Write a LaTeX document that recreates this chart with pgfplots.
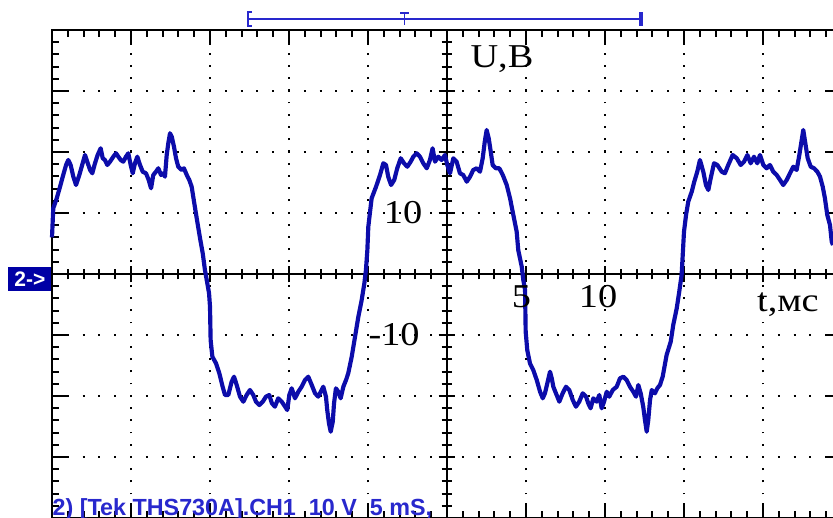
\documentclass[border=0pt]{standalone}
\usepackage{pgfplots}
\pgfplotsset{compat=1.18}
\usepackage{graphicx}
\usepackage{fontspec}
\setmainfont{Liberation Serif}
\newfontfamily\scopefont{Liberation Sans}

\definecolor{trace}{RGB}{12,12,170}
\definecolor{scopeblue}{RGB}{40,40,205}
\definecolor{tagblue}{RGB}{0,0,165}

% one screen: 10 x 8 divisions, 5 ms/div and 10 V/div
\pgfplotsset{
  scopeaxis/.style={
    scale only axis, width=237pt, height=146.4pt,
    at={(0pt,0pt)}, anchor=south west,
    xmin=-25, xmax=25, ymin=-40, ymax=40,
    enlargelimits=false,
    xtick={-25,-20,...,25}, ytick={-40,-30,...,40},
    minor x tick num=4, minor y tick num=4,
    xticklabels={}, yticklabels={},
  }
}
\newcommand\lbl[1]{\scalebox{1.15}[1]{\fontsize{10}{12}\selectfont #1}}

\begin{document}
\begin{tikzpicture}
\useasboundingbox (-15.6pt,0pt) rectangle (234.3pt,155.4pt);
\clip (-15.6pt,0pt) rectangle (234.3pt,155.4pt);

% frame and dotted graticule
\begin{axis}[scopeaxis,
  axis line style={line width=0.7pt},
  tick align=inside,
  major tick length=4.5pt, minor tick length=2pt,
  every tick/.style={black, line width=0.6pt},
  grid=major,
  x grid style={black, line width=0.55pt, dash pattern=on 0.55pt off 3.116pt, dash phase=0.275pt},
  y grid style={black, line width=0.55pt, dash pattern=on 0.55pt off 4.19pt, dash phase=0.275pt},
]
\end{axis}

% centre cross, trace and annotations
\begin{axis}[scopeaxis,
  axis lines=middle,
  axis line style={-, line width=0.6pt},
  every inner x axis line/.append style={-},
  every inner y axis line/.append style={-},
  tick align=center,
  major tick length=5pt, minor tick length=3.2pt,
  every tick/.style={black, line width=0.6pt},
  clip=false,
]
\addplot[trace, line width=1.25pt, line join=round] coordinates {
(-25.00,6.0) (-24.92,10.77) (-24.70,12.41) (-24.49,14.31) (-24.32,15.95) (-24.11,17.87) (-23.97,18.69) (-23.82,17.87) (-23.65,15.95) (-23.48,14.59) (-23.27,16.23) (-23.06,18.15) (-22.91,19.51) (-22.77,18.41) (-22.59,17.05) (-22.45,16.51) (-22.28,18.15) (-22.11,19.51) (-21.92,20.61) (-21.79,18.97) (-21.65,18.69) (-21.50,17.87) (-21.33,18.41) (-21.12,19.23) (-20.95,19.79) (-20.80,19.23) (-20.65,18.69) (-20.49,18.41) (-20.32,19.23) (-20.17,19.79) (-20.02,17.87) (-19.89,16.51) (-19.75,18.15) (-19.60,19.23) (-19.43,17.87) (-19.26,16.77) (-19.05,16.51) (-18.88,15.41) (-18.73,14.05) (-18.59,16.23) (-18.42,16.77) (-18.27,17.33) (-18.10,16.23) (-17.96,16.51) (-17.85,15.95) (-17.74,19.51) (-17.64,21.43) (-17.53,23.07) (-17.42,22.51) (-17.28,20.87) (-17.15,18.97) (-17.01,17.59) (-16.79,17.05) (-16.65,17.33) (-16.47,16.23) (-16.31,15.41) (-16.16,14.31) (-16.01,11.85) (-15.84,9.13) (-15.63,5.85) (-15.46,3.39) (-15.32,0.66) (-15.17,-1.52) (-15.06,-3.16) (-15.00,-5.36) (-14.96,-10.82) (-14.85,-13.56) (-14.62,-14.64) (-14.41,-16.28) (-14.20,-18.48) (-14.05,-19.84) (-13.84,-19.84) (-13.63,-17.66) (-13.48,-16.84) (-13.31,-18.20) (-13.10,-20.11) (-12.89,-20.93) (-12.68,-19.84) (-12.47,-19.02) (-12.26,-19.84) (-12.09,-20.93) (-11.88,-21.48) (-11.66,-20.93) (-11.46,-20.11) (-11.25,-19.84) (-11.08,-21.20) (-10.89,-21.75) (-10.68,-20.38) (-10.46,-20.93) (-10.25,-21.75) (-10.11,-22.30) (-9.98,-19.84) (-9.83,-18.74) (-9.62,-20.38) (-9.41,-19.30) (-9.20,-18.48) (-8.99,-17.38) (-8.78,-16.84) (-8.56,-18.20) (-8.35,-19.56) (-8.15,-20.11) (-7.99,-19.30) (-7.83,-18.48) (-7.66,-20.11) (-7.58,-22.30) (-7.47,-24.48) (-7.36,-25.85) (-7.23,-24.21) (-7.15,-21.20) (-7.03,-18.74) (-6.88,-19.30) (-6.73,-20.38) (-6.56,-18.48) (-6.39,-17.38) (-6.25,-16.28) (-6.03,-13.56) (-5.82,-10.28) (-5.61,-7.00) (-5.40,-4.26) (-5.23,-1.52) (-5.13,0.66) (-5.04,3.93) (-4.98,7.75) (-4.87,10.21) (-4.77,12.41) (-4.49,14.31) (-4.24,16.23) (-4.03,18.15) (-3.86,17.87) (-3.72,15.95) (-3.54,14.59) (-3.34,15.41) (-3.15,17.33) (-2.93,18.97) (-2.72,18.15) (-2.51,17.59) (-2.30,18.41) (-2.13,19.23) (-1.92,19.79) (-1.71,19.23) (-1.50,18.15) (-1.28,17.33) (-1.08,18.69) (-0.91,20.61) (-0.76,18.41) (-0.55,19.23) (-0.34,18.69) (-0.13,19.51) (0.02,17.87) (0.19,16.51) (0.40,18.97) (0.61,18.41) (0.82,16.51) (1.03,16.23) (1.25,15.13) (1.46,15.95) (1.66,17.05) (1.88,17.33) (2.09,16.77) (2.26,18.97) (2.39,21.69) (2.51,23.61) (2.64,22.25) (2.77,20.05) (2.89,17.87) (3.10,17.33) (3.31,17.33) (3.53,16.23) (3.78,14.59) (3.99,12.41) (4.20,9.67) (4.41,6.93) (4.51,3.93) (4.73,1.20) (4.83,-0.98) (4.94,-2.62) (4.98,-9.46) (5.08,-12.46) (5.25,-14.64) (5.46,-15.74) (5.68,-17.38) (5.89,-19.30) (6.06,-20.38) (6.20,-19.56) (6.35,-17.92) (6.52,-16.02) (6.63,-17.10) (6.73,-18.48) (6.94,-19.84) (7.11,-20.93) (7.32,-19.56) (7.53,-18.48) (7.74,-19.02) (7.96,-20.66) (8.16,-21.75) (8.37,-20.93) (8.59,-19.56) (8.80,-20.11) (8.94,-21.20) (9.09,-22.02) (9.26,-20.38) (9.47,-20.93) (9.64,-19.84) (9.79,-22.02) (9.94,-20.93) (10.11,-19.30) (10.27,-20.11) (10.49,-19.02) (10.74,-18.48) (10.95,-17.10) (11.16,-16.84) (11.37,-17.38) (11.58,-18.48) (11.79,-19.30) (11.96,-20.11) (12.11,-18.20) (12.26,-19.56) (12.42,-21.75) (12.53,-23.93) (12.64,-25.85) (12.74,-23.93) (12.85,-20.66) (12.96,-19.02) (13.16,-19.56) (13.31,-18.74) (13.48,-18.20) (13.65,-16.84) (13.90,-13.28) (14.16,-11.10) (14.32,-8.36) (14.54,-5.62) (14.70,-2.90) (14.85,-0.16) (14.92,3.11) (15.00,6.93) (15.13,9.67) (15.27,11.85) (15.49,13.49) (15.65,15.13) (15.84,16.77) (16.01,18.69) (16.22,16.77) (16.39,14.59) (16.54,13.77) (16.69,15.69) (16.90,18.15) (17.11,17.87) (17.39,16.77) (17.59,16.51) (17.80,17.87) (18.08,19.51) (18.34,18.97) (18.59,17.87) (18.80,18.41) (19.01,19.51) (19.22,18.15) (19.43,19.23) (19.64,18.15) (19.81,19.51) (20.02,17.87) (20.23,17.33) (20.44,17.87) (20.65,16.77) (20.87,16.23) (21.08,15.41) (21.28,14.59) (21.50,15.41) (21.71,16.51) (21.92,17.59) (22.13,17.05) (22.30,19.51) (22.45,21.97) (22.55,23.61) (22.68,21.43) (22.83,18.97) (23.02,17.59) (23.23,17.33) (23.44,16.77) (23.61,15.95) (23.78,14.31) (23.92,12.41) (24.07,9.67) (24.24,8.03) (24.35,5.30) (24.43,4.75)
};

% axis annotations
\node[anchor=base, inner sep=0] at (axis cs:3.48,33.93) {\lbl{U,В}};
\node[anchor=base, inner sep=0] at (axis cs:-2.78,8.36) {\lbl{10}};
\node[anchor=base, inner sep=0] at (axis cs:-3.35,-11.80) {\lbl{-10}};
\node[anchor=base, inner sep=0] at (axis cs:4.72,-5.57) {\lbl{5}};
\node[anchor=base, inner sep=0] at (axis cs:9.56,-5.57) {\lbl{10}};
\node[anchor=base, inner sep=0] at (axis cs:21.58,-6.07) {\lbl{t,мс}};

% channel tag and status line
\node[anchor=east, fill=tagblue, text=white, inner sep=0,
      minimum width=12.9pt, minimum height=7.2pt]
  at (axis cs:-25,-0.82) {\scopefont\bfseries\fontsize{6.3}{7}\selectfont 2->};
\node[anchor=base west, inner sep=0, text=scopeblue]
  at (axis cs:-25,-39.6) {\scopefont\bfseries\fontsize{7}{8}\selectfont 2) [Tek THS730A].CH1\ \ 10 V\ \ 5 mS,};

% trigger / record bar above the screen
\draw[scopeblue, line width=0.45pt] (axis cs:-12.59,41.80) -- (axis cs:12.28,41.80);
\draw[scopeblue, line width=0.6pt] (axis cs:-12.34,42.95) -- (axis cs:-12.59,42.95) -- (axis cs:-12.59,40.66) -- (axis cs:-12.34,40.66);
\draw[scopeblue, line width=0.45pt] (axis cs:-2.97,42.79) -- (axis cs:-2.41,42.79);
\draw[scopeblue, line width=0.45pt] (axis cs:-2.69,42.79) -- (axis cs:-2.69,40.82);
\draw[scopeblue, line width=1pt] (axis cs:12.28,42.95) -- (axis cs:12.28,40.66);
\end{axis}
\end{tikzpicture}
\end{document}
